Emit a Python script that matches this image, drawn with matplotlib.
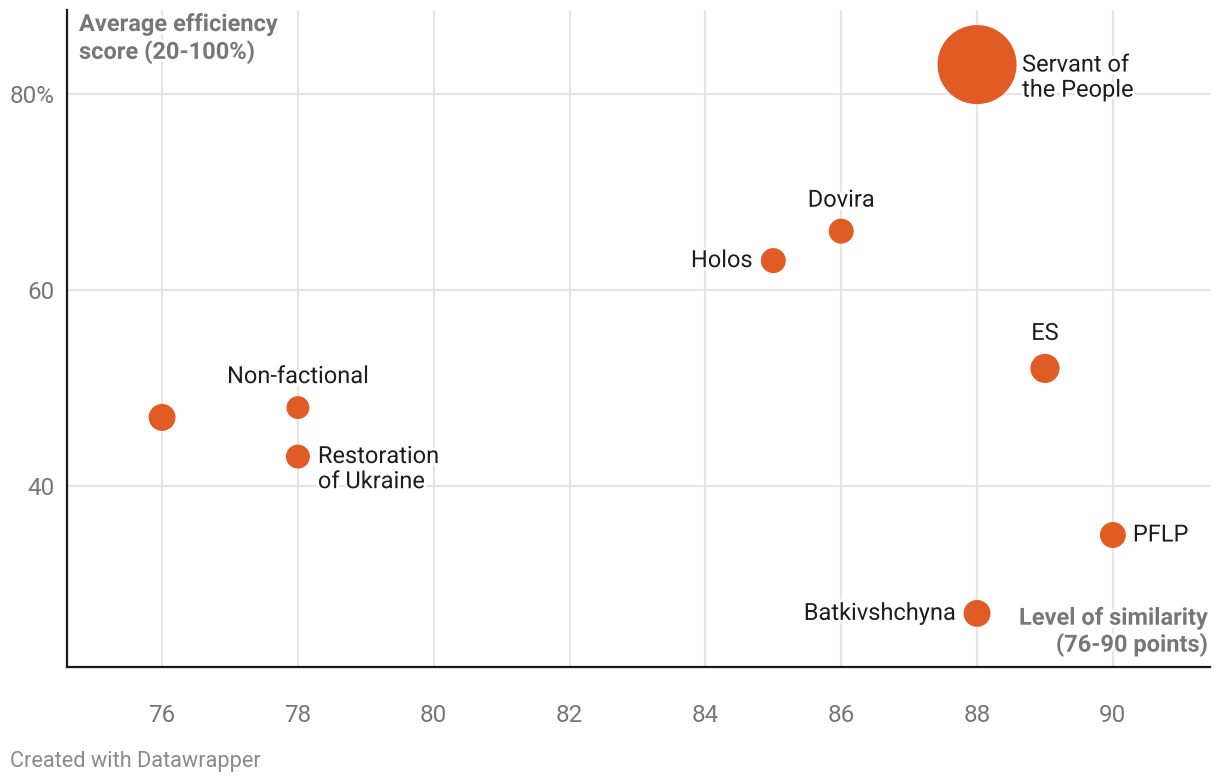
import matplotlib
matplotlib.use("Agg")
import matplotlib.pyplot as plt
import matplotlib.patheffects as pe
import numpy as np

plt.rcParams['font.family'] = ['Roboto', 'DejaVu Sans']

# ---- data ----
parties = ["Servant of\nthe People", "Dovira", "Holos", "ES", "Non-factional", "",
           "Restoration\nof Ukraine", "PFLP", "Batkivshchyna"]
similarity = [88, 86, 85, 89, 78, 76, 78, 90, 88]
efficiency = [83, 66, 63, 52, 48, 47, 43, 35, 27]
bubble_weight = [250, 25, 25, 34, 21, 29, 23, 27, 29]
x_ticks = [76, 78, 80, 82, 84, 86, 88, 90]
y_ticks = [40, 60, 80]
y_tick_labels = ["40", "60", "80%"]
x_title = "Level of similarity\n(76-90 points)"
y_title = "Average efficiency\nscore (20-100%)"
footer = "Created with Datawrapper"

# label placement: (dx px, dy px, ha, va)
label_pos = {
    "Servant of\nthe People": (45, -13, "left", "center"),
    "Dovira": (0, 31, "center", "center"),
    "Holos": (-21, 0, "right", "center"),
    "ES": (0, 35, "center", "center"),
    "Non-factional": (0, 31, "center", "center"),
    "Restoration\nof Ukraine": (20, -12.5, "left", "center"),
    "PFLP": (20, 0, "left", "center"),
    "Batkivshchyna": (-21, 0, "right", "center"),
}

ORANGE = "#e05c24"
fig = plt.figure(figsize=(12.2, 7.84), dpi=100)
ax = fig.add_axes([67/1220, 1-667/784, (1210-67)/1220, (667-10)/784])

px2pt = 0.72
sizes = [(5*np.sqrt(w)*px2pt)**2 for w in bubble_weight]
ax.scatter(similarity, efficiency, s=sizes, color=ORANGE, linewidths=0, zorder=3)

ax.set_xlim(74.60, 91.43)
ax.set_ylim(21.53, 88.57)
ax.set_xticks(x_ticks)
ax.set_xticklabels([str(t) for t in x_ticks])
ax.set_yticks(y_ticks)
ax.set_yticklabels(y_tick_labels)
ax.tick_params(axis='both', length=0, labelsize=17.5, labelcolor="#777777")
ax.tick_params(axis='x', pad=27)
ax.tick_params(axis='y', pad=9)
ax.grid(True, color="#e5e5e5", linewidth=1.5, zorder=0)
ax.set_axisbelow(True)
for s in ["top", "right"]:
    ax.spines[s].set_visible(False)
for s in ["left", "bottom"]:
    ax.spines[s].set_linewidth(1.6)
    ax.spines[s].set_color("#1a1a1a")

halo = [pe.withStroke(linewidth=4, foreground="white")]
for name, x, y in zip(parties, similarity, efficiency):
    if not name:
        continue
    dx, dy, ha, va = label_pos[name]
    ax.annotate(name, (x, y), xytext=(dx*px2pt, dy*px2pt), textcoords="offset points",
                ha=ha, va=va, fontsize=17, color="#1d1d1d", linespacing=1.12,
                path_effects=halo, zorder=4)

ax.text(79/1220, 1-13/784, y_title, transform=fig.transFigure, ha="left", va="top",
        fontsize=17, fontweight="bold", color="#777777", linespacing=1.2, path_effects=halo, zorder=5)
ax.text(1208/1220, 1-657/784, x_title, transform=fig.transFigure, ha="right", va="bottom",
        fontsize=17, fontweight="bold", color="#777777", linespacing=1.15, path_effects=halo, zorder=5)

fig.text(10/1220, 1-762/784, footer, ha="left", va="center", fontsize=15.7, color="#8a8a8a")

fig.savefig("out.png", dpi=100)
